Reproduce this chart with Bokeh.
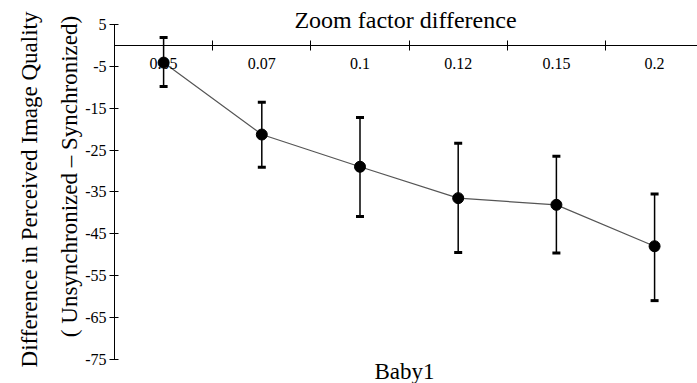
import math
from bokeh.plotting import figure
from bokeh.models import (Range1d, LinearAxis, FixedTicker, Label, Whisker,
                          TeeHead, ColumnDataSource)
from bokeh.embed import file_html
from bokeh.resources import INLINE

# ---- data ----
zoom_factors = ["0.05", "0.07", "0.1", "0.12", "0.15", "0.2"]
mean_diff = [-4.1, -21.3, -29.0, -36.5, -38.1, -48.0]
err_upper = [1.9, -13.6, -17.2, -23.4, -26.5, -35.5]
err_lower = [-9.8, -29.1, -40.9, -49.5, -49.6, -61.0]
y_ticks = [5, -5, -15, -25, -35, -45, -55, -65, -75]

title_text = "Zoom factor difference"
xlabel_text = "Baby1"
ylabel_line1 = "Difference in Perceived Image Quality"
ylabel_line2 = "( Unsynchronized \u2013 Synchronized)"

FONT = "Liberation Serif"
W, H = 697, 383

xs = list(range(len(zoom_factors)))
src = ColumnDataSource(dict(x=xs, y=mean_diff, upper=err_upper, lower=err_lower))

# frame covers the whole canvas; axes are placed at fixed data locations
x0, x1 = -1.661, 5.437
y0, y1 = -80.81, 10.74

p = figure(width=W, height=H, output_backend="svg", toolbar_location=None,
           x_axis_type=None, y_axis_type=None,
           x_range=Range1d(x0, x1), y_range=Range1d(y0, y1),
           min_border_left=0, min_border_right=0, min_border_top=0,
           min_border_bottom=0)
p.outline_line_color = None
p.grid.grid_line_color = None
p.background_fill_color = "white"
p.border_fill_color = "white"

# y axis at x = -0.5 (left edge of the first category)
ya = LinearAxis(fixed_location=-0.5, bounds=(min(y_ticks), max(y_ticks)),
                ticker=FixedTicker(ticks=y_ticks),
                major_label_overrides={t: str(t) for t in y_ticks},
                major_tick_in=4, major_tick_out=5,
                minor_tick_line_color=None,
                axis_line_color="black", major_tick_line_color="black",
                major_label_text_font=FONT, major_label_text_font_size="16px",
                major_label_text_color="black", major_label_standoff=3)
p.add_layout(ya, "left")

# x axis drawn at y = 0 : tick marks between categories
xa_ticks = LinearAxis(fixed_location=0, bounds=(-0.5, x1),
                      ticker=FixedTicker(ticks=[i + 0.5 for i in xs]),
                      major_tick_in=5, major_tick_out=5,
                      minor_tick_line_color=None,
                      axis_line_color="black", major_tick_line_color="black",
                      major_label_text_color=None)
p.add_layout(xa_ticks, "below")

# x axis category labels
xa_lab = LinearAxis(fixed_location=0, ticker=FixedTicker(ticks=xs),
                    major_label_overrides={i: z for i, z in zip(xs, zoom_factors)},
                    axis_line_color=None, major_tick_line_color=None,
                    major_tick_in=0, major_tick_out=0,
                    minor_tick_line_color=None,
                    major_label_standoff=13,
                    major_label_text_font=FONT,
                    major_label_text_font_size="16px",
                    major_label_text_color="black")
p.add_layout(xa_lab, "below")

# data
p.line("x", "y", source=src, line_color="#555555", line_width=1.2)
w = Whisker(base="x", upper="upper", lower="lower", source=src,
            line_color="black", line_width=1.5,
            upper_head=TeeHead(size=8, line_width=3, line_color="black"),
            lower_head=TeeHead(size=8, line_width=3, line_color="black"))
p.add_layout(w)
p.scatter("x", "y", source=src, size=11, color="black")

# texts (screen units: origin at bottom-left of the canvas-wide frame)
def lab(x, y, text, size, angle=0.0):
    p.add_layout(Label(x=x, y=H - y, x_units="screen", y_units="screen",
                       angle=angle, text=text, text_font=FONT,
                       text_font_size=size, text_align="center",
                       text_baseline="middle", text_color="black"))

lab(405, 19, title_text, "24px")
lab(404, 371, xlabel_text, "23px")
lab(29, 189, ylabel_line1, "23px", math.pi / 2)
lab(69, 176, ylabel_line2, "23px", math.pi / 2)

open("out.html", "w").write(file_html(p, INLINE))
